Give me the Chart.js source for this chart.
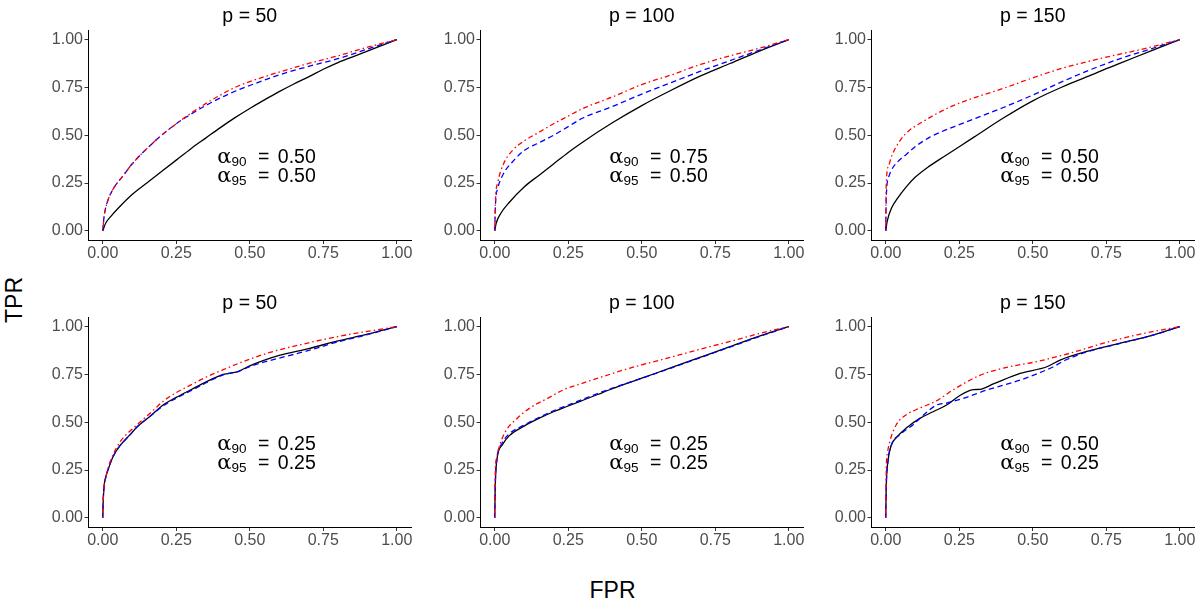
<!DOCTYPE html>
<html><head><meta charset="utf-8">
<script src="https://cdn.jsdelivr.net/npm/chart.js@4.4.0/dist/chart.umd.min.js"></script>
<style>
body{margin:0;background:#fff;width:1200px;height:600px;position:relative;overflow:hidden;font-family:"Liberation Sans",Arial,sans-serif;}
canvas{position:absolute;}
.lab{position:absolute;color:#000;font-size:23px;line-height:1;white-space:nowrap;}
#tpr{left:14px;top:300px;transform:translate(-50%,-50%) rotate(-90deg);}
#fpr{left:612.5px;top:578.5px;transform:translateX(-50%);}
</style></head><body>
<div class="lab" id="tpr">TPR</div>
<div class="lab" id="fpr">FPR</div>
<script>
// ---------- tick labels ----------
const tickValues = [0, 0.25, 0.5, 0.75, 1];
const tickLabels = ['0.00', '0.25', '0.50', '0.75', '1.00'];
const panelTitles = ['p = 50', 'p = 100', 'p = 150', 'p = 50', 'p = 100', 'p = 150'];
const alpha90 = ['0.50', '0.75', '0.50', '0.25', '0.25', '0.50'];
const alpha95 = ['0.50', '0.50', '0.50', '0.25', '0.25', '0.25'];

// ---------- top row, p = 50 ----------
const t50BlackX = [0,0.01,0.03,0.06,0.10,0.15,0.20,0.25,0.30,0.35,0.40,0.45,0.50,0.55,0.60,0.65,0.70,0.75,0.80,0.85,0.90,0.95,1.0];
const t50BlackY = [0,0.04,0.08,0.13,0.19,0.25,0.31,0.37,0.43,0.485,0.54,0.592,0.64,0.685,0.728,0.768,0.805,0.845,0.88,0.91,0.94,0.97,1.0];
const t50BlueX  = [0,0.005,0.01,0.02,0.04,0.07,0.10,0.15,0.20,0.25,0.30,0.35,0.40,0.45,0.50,0.60,0.70,0.80,0.90,1.0];
const t50BlueY  = [0,0.08,0.12,0.17,0.23,0.29,0.35,0.43,0.50,0.56,0.61,0.655,0.695,0.73,0.76,0.815,0.86,0.90,0.95,1.0];
const t50RedX   = [0,0.005,0.01,0.02,0.04,0.07,0.10,0.15,0.20,0.25,0.30,0.35,0.40,0.45,0.50,0.60,0.70,0.80,0.90,1.0];
const t50RedY   = [0,0.08,0.12,0.17,0.23,0.29,0.35,0.43,0.50,0.56,0.615,0.665,0.71,0.75,0.78,0.83,0.875,0.915,0.96,1.0];

// ---------- top row, p = 100 ----------
const t100BlackX = [0,0.005,0.02,0.05,0.10,0.15,0.20,0.25,0.30,0.40,0.50,0.60,0.70,0.80,0.90,1.0];
const t100BlackY = [0,0.04,0.09,0.15,0.23,0.29,0.35,0.41,0.465,0.565,0.655,0.735,0.81,0.875,0.94,1.0];
const t100BlueX  = [0,0.003,0.01,0.03,0.06,0.10,0.15,0.20,0.25,0.30,0.40,0.50,0.60,0.70,0.80,0.90,1.0];
const t100BlueY  = [0,0.15,0.22,0.30,0.36,0.42,0.46,0.50,0.545,0.59,0.65,0.715,0.775,0.835,0.89,0.945,1.0];
const t100RedX   = [0,0.003,0.01,0.03,0.06,0.10,0.15,0.20,0.25,0.30,0.40,0.50,0.60,0.70,0.80,0.90,1.0];
const t100RedY   = [0,0.17,0.25,0.35,0.42,0.47,0.515,0.56,0.60,0.64,0.70,0.765,0.815,0.87,0.915,0.955,1.0];

// ---------- top row, p = 150 ----------
const t150BlackX = [0,0.005,0.02,0.04,0.07,0.10,0.15,0.20,0.25,0.30,0.40,0.50,0.60,0.70,0.75,0.80,0.90,1.0];
const t150BlackY = [0,0.05,0.12,0.17,0.23,0.28,0.34,0.39,0.44,0.49,0.59,0.68,0.752,0.815,0.848,0.878,0.94,1.0];
const t150BlueX  = [0,0.002,0.01,0.02,0.04,0.07,0.10,0.15,0.20,0.25,0.30,0.40,0.50,0.60,0.70,0.80,0.90,1.0];
const t150BlueY  = [0,0.18,0.28,0.32,0.36,0.40,0.44,0.49,0.525,0.555,0.585,0.645,0.71,0.78,0.845,0.902,0.95,1.0];
const t150RedX   = [0,0.002,0.01,0.02,0.05,0.08,0.12,0.17,0.23,0.30,0.40,0.50,0.60,0.70,0.80,0.90,1.0];
const t150RedY   = [0,0.25,0.34,0.39,0.475,0.525,0.565,0.61,0.655,0.695,0.745,0.80,0.85,0.89,0.925,0.96,1.0];

// ---------- bottom row, p = 50 ----------
const b50BlackX = [0,0.002,0.005,0.01,0.02,0.035,0.06,0.09,0.12,0.16,0.21,0.25,0.30,0.35,0.41,0.46,0.50,0.55,0.60,0.70,0.80,0.90,1.0];
const b50BlackY = [0,0.10,0.17,0.21,0.26,0.32,0.38,0.43,0.48,0.53,0.595,0.63,0.67,0.71,0.75,0.765,0.795,0.825,0.85,0.885,0.925,0.96,1.0];
const b50BlueX  = [0,0.002,0.005,0.01,0.02,0.035,0.06,0.09,0.12,0.16,0.21,0.25,0.30,0.35,0.41,0.46,0.50,0.55,0.60,0.70,0.80,0.90,1.0];
const b50BlueY  = [0,0.10,0.17,0.21,0.26,0.32,0.38,0.43,0.48,0.53,0.59,0.625,0.665,0.705,0.748,0.765,0.79,0.815,0.835,0.875,0.92,0.958,1.0];
const b50RedX   = [0,0.002,0.005,0.01,0.02,0.035,0.06,0.09,0.13,0.17,0.21,0.25,0.30,0.35,0.41,0.50,0.58,0.70,0.80,0.90,1.0];
const b50RedY   = [0,0.10,0.17,0.21,0.27,0.33,0.40,0.45,0.505,0.56,0.615,0.655,0.695,0.735,0.775,0.83,0.87,0.915,0.948,0.975,1.0];

// ---------- bottom row, p = 100 ----------
const b100BlackX = [0,0.002,0.008,0.025,0.05,0.10,0.15,0.20,0.25,0.30,0.35,0.40,0.50,0.60,0.70,0.80,0.90,1.0];
const b100BlackY = [0,0.17,0.31,0.38,0.43,0.48,0.52,0.555,0.585,0.615,0.645,0.675,0.73,0.785,0.84,0.895,0.95,1.0];
const b100BlueX  = [0,0.002,0.008,0.025,0.05,0.10,0.15,0.20,0.25,0.30,0.35,0.40,0.50,0.60,0.70,0.80,0.90,1.0];
const b100BlueY  = [0,0.18,0.31,0.39,0.44,0.485,0.525,0.56,0.59,0.62,0.65,0.678,0.73,0.783,0.838,0.893,0.948,1.0];
const b100RedX   = [0,0.002,0.006,0.014,0.036,0.076,0.12,0.18,0.235,0.30,0.35,0.46,0.575,0.69,0.80,0.915,1.0];
const b100RedY   = [0,0.24,0.31,0.365,0.45,0.52,0.575,0.625,0.67,0.705,0.73,0.783,0.83,0.878,0.922,0.97,1.0];

// ---------- bottom row, p = 150 ----------
const b150BlackX = [0,0.002,0.008,0.019,0.036,0.07,0.116,0.161,0.207,0.252,0.298,0.32,0.366,0.457,0.548,0.593,0.684,0.798,0.911,1.0];
const b150BlackY = [0,0.17,0.30,0.38,0.42,0.47,0.52,0.555,0.59,0.64,0.67,0.672,0.70,0.755,0.79,0.825,0.87,0.913,0.957,1.0];
const b150BlueX  = [0,0.002,0.008,0.019,0.048,0.093,0.127,0.173,0.207,0.264,0.343,0.457,0.57,0.605,0.684,0.798,0.911,1.0];
const b150BlueY  = [0,0.17,0.30,0.38,0.435,0.487,0.535,0.59,0.60,0.625,0.668,0.72,0.79,0.82,0.868,0.912,0.956,1.0];
const b150RedX   = [0,0.002,0.006,0.014,0.036,0.07,0.116,0.173,0.23,0.32,0.40,0.514,0.627,0.741,0.855,1.0];
const b150RedY   = [0,0.26,0.34,0.40,0.487,0.539,0.574,0.612,0.67,0.745,0.783,0.817,0.861,0.913,0.957,1.0];

// ---------- assemble ----------
const panelSeries = [
  [[t50BlackX,t50BlackY],[t50BlueX,t50BlueY],[t50RedX,t50RedY]],
  [[t100BlackX,t100BlackY],[t100BlueX,t100BlueY],[t100RedX,t100RedY]],
  [[t150BlackX,t150BlackY],[t150BlueX,t150BlueY],[t150RedX,t150RedY]],
  [[b50BlackX,b50BlackY],[b50BlueX,b50BlueY],[b50RedX,b50RedY]],
  [[b100BlackX,b100BlackY],[b100BlueX,b100BlueY],[b100RedX,b100RedY]],
  [[b150BlackX,b150BlackY],[b150BlueX,b150BlueY],[b150RedX,b150RedY]]
];

const FONT = '"Liberation Sans", Arial, sans-serif';
const canvasLefts = [28, 420, 811];
const canvasTops = [0, 287];
const CW = 400, CH = 280, AXW = 60, PADTOP = 30, PLOTW = 323.5, PLOTH = 210.5;

const styles = [
  {color:'#000000', dash:[]},
  {color:'#0000FF', dash:[5.5,3.5]},
  {color:'#FF0000', dash:[1.5,3,5,3]}
];

function toPts(xs, ys){ return xs.map((x,i)=>({x:x, y:ys[i]})); }

const titlePlugin = {
  id:'panelTitle',
  afterDraw(chart){
    const ctx = chart.ctx, a = chart.chartArea;
    ctx.save();
    ctx.font = '19.5px ' + FONT;
    ctx.fillStyle = '#000';
    ctx.textAlign = 'center';
    ctx.textBaseline = 'alphabetic';
    ctx.fillText(chart.options.plugins.panelTitle.text, (a.left + a.right)/2, a.top - 8.4);
    ctx.restore();
  }
};

const annotPlugin = {
  id:'alphaNote',
  afterDatasetsDraw(chart){
    const o = chart.options.plugins.alphaNote;
    const ctx = chart.ctx, xs = chart.scales.x, ys = chart.scales.y;
    const cx = xs.getPixelForValue(0.557);
    const lines = [['90', o.a90, 0.356], ['95', o.a95, 0.256]];
    ctx.save();
    ctx.fillStyle = '#000';
    ctx.textBaseline = 'alphabetic';
    ctx.textAlign = 'left';
    lines.forEach(([sub, val, yv]) => {
      const by = ys.getPixelForValue(yv);
      const fA = '21px "DejaVu Serif", serif';
      const fS = '13.5px ' + FONT;
      const fM = '19.5px ' + FONT;
      ctx.font = fA; const wA = ctx.measureText('α').width;
      ctx.font = fS; const wS = ctx.measureText(sub).width;
      ctx.font = fM; const wE = ctx.measureText('=').width; const wV = ctx.measureText(val).width;
      const g1 = 11.5, g2 = 8.5;
      const total = wA + wS + g1 + wE + g2 + wV;
      let x = cx - total/2;
      ctx.font = fA; ctx.fillText('α', x, by); x += wA;
      ctx.font = fS; ctx.fillText(sub, x, by + 3.5); x += wS + g1;
      ctx.font = fM; ctx.fillText('=', x, by); x += wE + g2;
      ctx.fillText(val, x, by);
    });
    ctx.restore();
  }
};

function axisOpts(isX){
  return {
    type:'linear', min:-0.05, max:1.05,
    afterBuildTicks(s){ s.ticks = tickValues.map(v=>({value:v})); },
    afterFit(s){ if(isX){ s.height = CH - PADTOP - PLOTH; } else { s.width = AXW; } },
    ticks:{
      callback:(v,i)=>tickLabels[i],
      font:{size:16, family:FONT},
      color:'#4D4D4D',
      padding: isX ? 0 : 1.5,
      maxRotation:0, autoSkip:false
    },
    grid:{display:true, drawOnChartArea:false, drawTicks:true, tickLength:3.5, tickColor:'#333333', tickWidth:1},
    border:{display:true, color:'#000000', width:1}
  };
}

for(let p=0;p<6;p++){
  const cv = document.createElement('canvas');
  cv.width = CW; cv.height = CH;
  cv.style.width = CW+'px'; cv.style.height = CH+'px';
  cv.style.left = canvasLefts[p%3] + 'px';
  cv.style.top = canvasTops[Math.floor(p/3)] + 'px';
  document.body.appendChild(cv);
  const ser = panelSeries[p];
  // draw order: red on top, then blue, then black
  const datasets = [2,1,0].map(k=>({
    data: toPts(ser[k][0], ser[k][1]),
    showLine:true, fill:false, pointRadius:0, pointHoverRadius:0,
    borderColor:styles[k].color, borderWidth:1.3, borderDash:styles[k].dash,
    cubicInterpolationMode:'monotone'
  }));
  new Chart(cv, {
    type:'scatter',
    data:{datasets},
    options:{
      responsive:false, animation:false, devicePixelRatio:1,
      layout:{padding:{top:PADTOP, right:CW-AXW-PLOTW, left:0, bottom:0}},
      plugins:{
        legend:{display:false}, tooltip:{enabled:false},
        panelTitle:{text:panelTitles[p]},
        alphaNote:{a90:alpha90[p], a95:alpha95[p]}
      },
      scales:{x:axisOpts(true), y:axisOpts(false)}
    },
    plugins:[titlePlugin, annotPlugin]
  });
}
</script>
</body></html>
